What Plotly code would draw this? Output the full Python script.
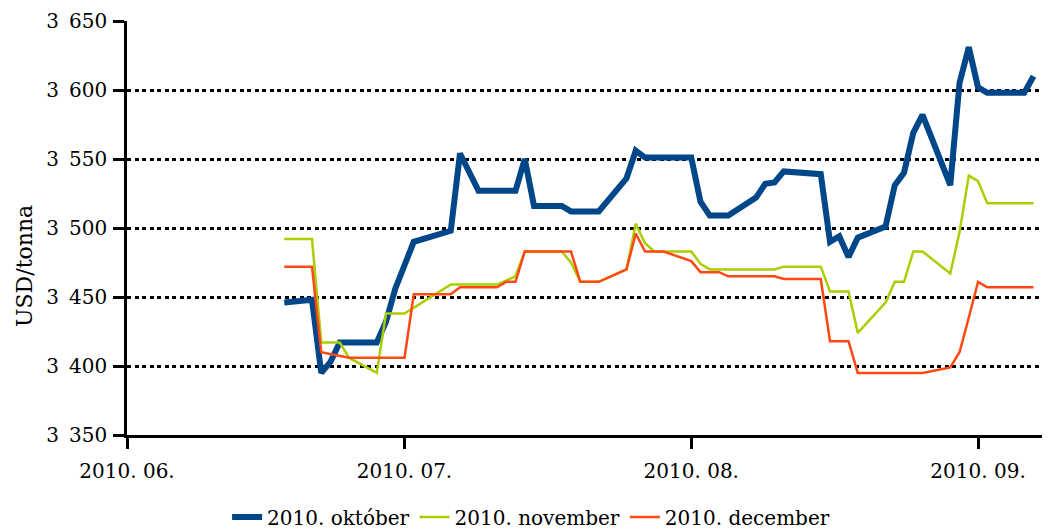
import plotly.graph_objects as go

# ---- data ----
okt_dates = ["2010-06-18","2010-06-21","2010-06-22","2010-06-23","2010-06-24","2010-06-28","2010-06-29",
             "2010-06-30","2010-07-01","2010-07-02","2010-07-06","2010-07-07","2010-07-09","2010-07-13",
             "2010-07-14","2010-07-15","2010-07-18","2010-07-19","2010-07-22","2010-07-25","2010-07-26",
             "2010-07-27","2010-08-01","2010-08-02","2010-08-03","2010-08-05","2010-08-08","2010-08-09",
             "2010-08-10","2010-08-11","2010-08-15","2010-08-16","2010-08-17","2010-08-18","2010-08-19",
             "2010-08-22","2010-08-23","2010-08-24","2010-08-25","2010-08-26","2010-08-29","2010-08-30",
             "2010-08-31","2010-09-01","2010-09-02","2010-09-06","2010-09-07"]
okt_values = [3446,3448,3395,3403,3417,3417,3432,
              3456,3473,3490,3498,3554,3527,3527,
              3550,3516,3516,3512,3512,3536,3556,
              3551,3551,3519,3509,3509,3522,3532,
              3533,3541,3539,3490,3494,3479,3493,
              3501,3531,3540,3569,3582,3531,3605,
              3631,3602,3598,3598,3610]

nov_dates = ["2010-06-18","2010-06-21","2010-06-22","2010-06-24","2010-06-25","2010-06-28","2010-06-29",
             "2010-07-01","2010-07-06","2010-07-11","2010-07-13","2010-07-14","2010-07-18","2010-07-19",
             "2010-07-20","2010-07-22","2010-07-25","2010-07-26","2010-07-27","2010-07-28","2010-08-01",
             "2010-08-02","2010-08-03","2010-08-10","2010-08-11","2010-08-15","2010-08-16","2010-08-18",
             "2010-08-19","2010-08-22","2010-08-23","2010-08-24","2010-08-25","2010-08-26","2010-08-29",
             "2010-08-30","2010-08-31","2010-09-01","2010-09-02","2010-09-07"]
nov_values = [3492,3492,3417,3417,3406,3395,3438,
              3438,3459,3459,3465,3483,3483,3475,
              3461,3461,3470,3503,3489,3483,3483,
              3474,3470,3470,3472,3472,3454,3454,
              3424,3446,3461,3461,3483,3483,3467,
              3497,3538,3534,3518,3518]

dec_dates = ["2010-06-18","2010-06-21","2010-06-22","2010-06-25","2010-07-01","2010-07-02","2010-07-06",
             "2010-07-07","2010-07-11","2010-07-12","2010-07-13","2010-07-14","2010-07-19","2010-07-20",
             "2010-07-22","2010-07-25","2010-07-26","2010-07-27","2010-07-29","2010-08-01","2010-08-02",
             "2010-08-04","2010-08-05","2010-08-10","2010-08-11","2010-08-15","2010-08-16","2010-08-18",
             "2010-08-19","2010-08-26","2010-08-29","2010-08-30","2010-08-31","2010-09-01","2010-09-02",
             "2010-09-07"]
dec_values = [3472,3472,3410,3406,3406,3452,3452,
              3457,3457,3461,3461,3483,3483,3461,
              3461,3470,3496,3483,3483,3476,3468,
              3468,3465,3465,3463,3463,3418,3418,
              3395,3395,3399,3410,3435,3461,3457,
              3457]

series_names = ["2010. október", "2010. november", "2010. december"]
y_ticks = [3350, 3400, 3450, 3500, 3550, 3600, 3650]
y_ticktext = ["3\u2002" + str(v)[1:] for v in y_ticks]
y_title = "USD/tonna"

FONT = "DejaVu Serif"
# the page body adds an 8px offset; the figure fills the rest of the 1050x529 window
W, H = 1042, 521
fig = go.Figure()
fig.add_trace(go.Scatter(x=okt_dates, y=okt_values, mode="lines", name=series_names[0],
                         line=dict(color="rgb(0,71,137)", width=6)))
fig.add_trace(go.Scatter(x=nov_dates, y=nov_values, mode="lines", name=series_names[1],
                         line=dict(color="rgb(170,206,0)", width=2.5)))
fig.add_trace(go.Scatter(x=dec_dates, y=dec_values, mode="lines", name=series_names[2],
                         line=dict(color="rgb(255,72,20)", width=2.5)))

fig.update_layout(
    width=W, height=H,
    margin=dict(l=119, r=8, t=13, b=94, autoexpand=False),
    paper_bgcolor="white", plot_bgcolor="white",
    font=dict(family=FONT, size=20, color="black"),
    showlegend=True,
    legend=dict(orientation="h", xref="container", x=0.502, xanchor="center",
                yref="container", y=0.023, yanchor="middle",
                font=dict(family=FONT, size=20), itemwidth=30, tracegroupgap=0),
    annotations=[dict(text=y_title, textangle=-90, xref="paper", yref="paper",
                      x=(24 - 127) / 915, y=(435 - 266) / 414, showarrow=False,
                      xanchor="center", yanchor="middle",
                      font=dict(family=FONT, size=22))],
)
fig.update_xaxes(
    type="date", range=["2010-06-01", "2010-09-07 22:00"], automargin=False,
    tick0="2010-06-01", dtick="M1", tickformat="%Y. %m.", tickangle=0,
    showline=True, linecolor="black", linewidth=2.5,
    ticks="outside", ticklen=11, tickwidth=2.5, tickcolor="black",
    ticklabelstandoff=5,
    showgrid=False, zeroline=False,
    tickfont=dict(family=FONT, size=20),
)
fig.update_yaxes(
    range=[3350, 3650], tickvals=y_ticks, ticktext=y_ticktext, automargin=False,
    showline=True, linecolor="black", linewidth=2.5,
    ticks="outside", ticklen=11, tickwidth=2.5, tickcolor="black",
    ticklabelstandoff=2,
    showgrid=True, gridcolor="black", gridwidth=2.5, griddash="4px,3.5px",
    zeroline=False,
    tickfont=dict(family=FONT, size=20),
)

fig.write_html("out.html")
